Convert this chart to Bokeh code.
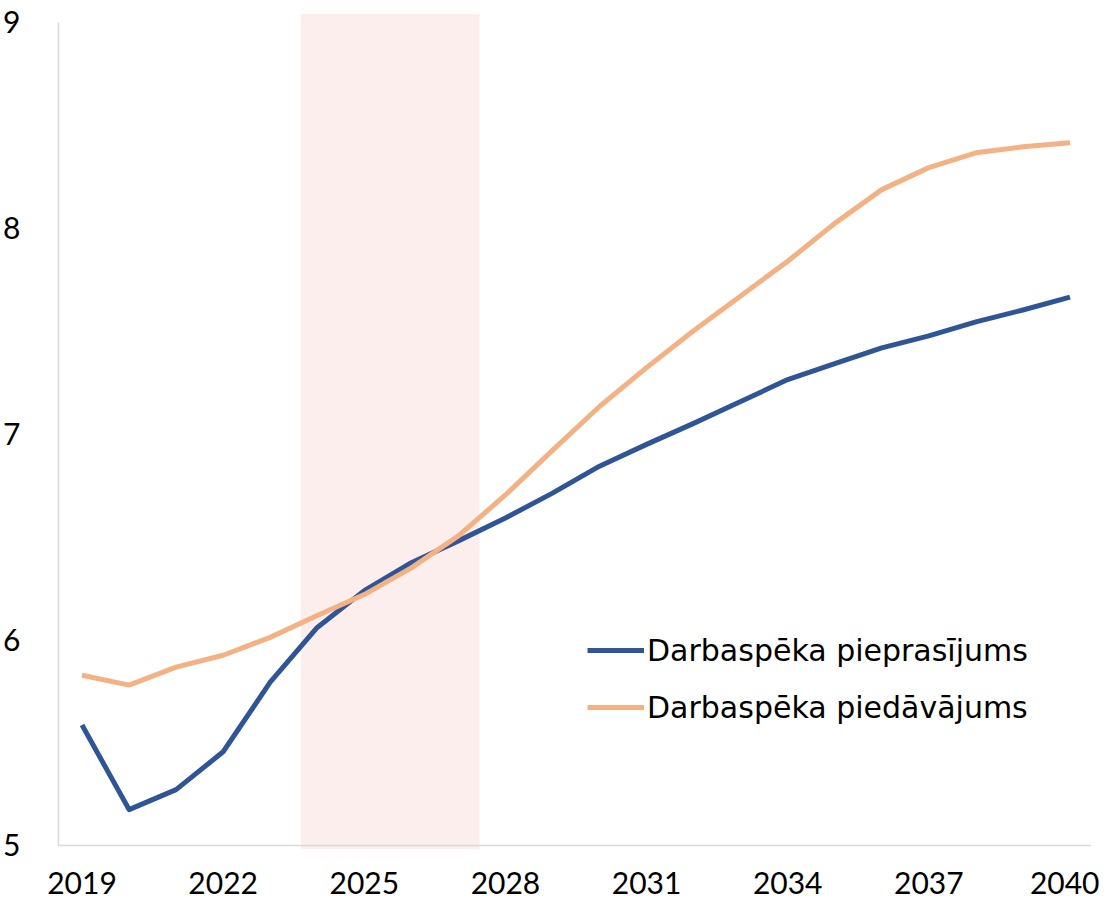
from bokeh.plotting import figure
from bokeh.models import Range1d, FixedTicker, Legend, LegendItem, ColumnDataSource
from bokeh.embed import file_html
from bokeh.resources import INLINE

years = list(range(2019, 2041))
demand = [5.585, 5.174, 5.271, 5.455, 5.793, 6.059, 6.238, 6.374, 6.48, 6.591, 6.712,
          6.843, 6.949, 7.051, 7.157, 7.264, 7.341, 7.418, 7.476, 7.544, 7.602, 7.665]
supply = [5.827, 5.779, 5.866, 5.924, 6.011, 6.117, 6.219, 6.349, 6.504, 6.703, 6.920,
          7.133, 7.322, 7.501, 7.670, 7.839, 8.023, 8.187, 8.294, 8.366, 8.395, 8.415]
series_names = ["Darbaspēka pieprasījums", "Darbaspēka piedāvājums"]
x_ticks = [2019, 2022, 2025, 2028, 2031, 2034, 2037, 2040]
y_ticks = [5, 6, 7, 8, 9]
shade_start, shade_end = 2023.65, 2027.45

FONT = "Lato"
LEG_FONT = "DejaVu Sans"
AXIS_COLOR = "#D9D9D9"
Y0, Y1 = 4.98, 9.043

p = figure(frame_width=1035, frame_height=836, output_backend="svg", toolbar_location=None,
           x_range=Range1d(2018.5, 2040.5), y_range=Range1d(Y0, Y1),
           min_border_left=52, min_border_right=6, min_border_top=13, min_border_bottom=56)
p.outline_line_color = None
p.xgrid.visible = False
p.ygrid.visible = False

# shaded period
p.quad(left=[shade_start], right=[shade_end], bottom=[Y0], top=[Y1],
       fill_color="#FDEEEE", line_color=None)

# bottom axis line at y=5
p.segment(x0=[2018.4], y0=[5], x1=[2040.45], y1=[5], line_color=AXIS_COLOR, line_width=1.5)

src = ColumnDataSource(dict(x=years, d=demand, s=supply))
r1 = p.line("x", "d", source=src, line_color="#2F5597", line_width=5, line_join="round")
r2 = p.line("x", "s", source=src, line_color="#F4B183", line_width=5, line_join="round")

p.xaxis.ticker = FixedTicker(ticks=x_ticks)
p.yaxis.ticker = FixedTicker(ticks=y_ticks)
p.yaxis.bounds = (5, 9)
for ax in (p.xaxis[0], p.yaxis[0]):
    ax.major_tick_line_color = None
    ax.minor_tick_line_color = None
    ax.major_label_text_font = FONT
    ax.major_label_text_font_size = "30px"
    ax.major_label_text_color = "#000000"
p.xaxis.axis_line_color = None
p.yaxis.axis_line_color = AXIS_COLOR
p.yaxis.axis_line_width = 1.5
p.yaxis.major_label_standoff = 32
p.xaxis.major_label_standoff = 16

legend = Legend(items=[LegendItem(label=series_names[0], renderers=[r1]),
                       LegendItem(label=series_names[1], renderers=[r2])],
                location=(529, 122), orientation="vertical")
legend.label_text_font = LEG_FONT
legend.label_text_font_size = "30px"
legend.label_text_color = "#000000"
legend.glyph_width = 57
legend.glyph_height = 40
legend.label_height = 40
legend.spacing = 17
legend.padding = 0
legend.margin = 0
legend.label_standoff = 3
legend.border_line_color = None
legend.background_fill_alpha = 0
p.add_layout(legend)

open("out.html", "w").write(file_html(p, INLINE))
